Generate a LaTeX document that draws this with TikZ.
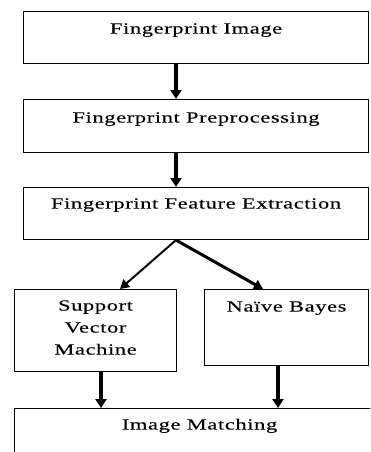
\documentclass[tikz,border=0pt]{standalone}
\usepackage{fontspec}
\setmainfont{Liberation Serif}[FakeStretch=1.45,LetterSpace=4,FakeBold=0.2]
\usetikzlibrary{arrows.meta}
\begin{document}
\begin{tikzpicture}[x=1pt,y=-1pt,
  box/.style={draw, line width=1.1pt, inner sep=0pt, anchor=north west, align=center,
    font=\fontsize{15.5}{22}\selectfont},
  flow/.style={line width=3.5pt, -{Triangle[width=11pt,length=9pt]}},
  split/.style={-{Triangle[width=10pt,length=9pt]}}]
\useasboundingbox (0,0) rectangle (370,452);
\clip (0,0) rectangle (370,452);
\node[box, minimum width=345pt, minimum height=52pt, text height=22pt, text depth=30pt] (b1) at (23,11) {Fingerprint Image};
\node[box, minimum width=345pt, minimum height=53pt, text height=23pt, text depth=30pt] (b2) at (23,99) {Fingerprint Preprocessing};
\node[box, minimum width=345pt, minimum height=52pt, text height=21pt, text depth=31pt] (b3) at (23,187) {Fingerprint Feature Extraction};
\node[box, minimum width=162pt, minimum height=82pt, text height=65pt, text depth=17pt] (svm) at (14,289) {Support\\Vector\\Machine};
\node[box, minimum width=164pt, minimum height=76pt, text height=22pt, text depth=54pt] (nb) at (204,289) {Naïve Bayes};
\node[box, minimum width=370pt, minimum height=60pt, text height=21pt, text depth=39pt] (im) at (14,408) {Image Matching};
\draw[flow] (176,0 |- b1.south) -- (176,0 |- b2.north);
\draw[flow] (176,0 |- b2.south) -- (176,0 |- b3.north);
\coordinate (sp) at (176,0 |- b3.south);
\draw[split, line width=2pt] (sp) -- (120,0 |- svm.north);
\draw[split, line width=3pt] (sp) -- (263,0 |- nb.north);
\draw[flow] (101,0 |- svm.south) -- (101,0 |- im.north);
\draw[flow] (278,0 |- nb.south) -- (278,0 |- im.north);
\end{tikzpicture}
\end{document}
